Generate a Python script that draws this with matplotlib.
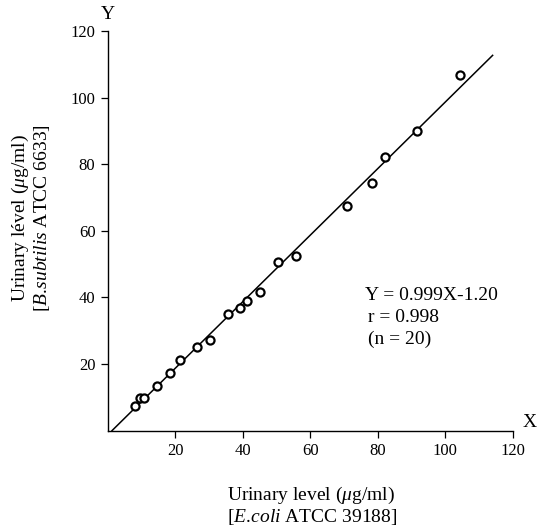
import numpy as np
import matplotlib
matplotlib.use("Agg")
import matplotlib.pyplot as plt

plt.rcParams['font.family'] = ['Liberation Serif', 'DejaVu Serif']
plt.rcParams['mathtext.fontset'] = 'custom'
plt.rcParams['mathtext.rm'] = 'Liberation Serif'
plt.rcParams['mathtext.it'] = 'Liberation Serif:italic'

# urinary levels measured with the two test organisms (ug/ml)
ecoli = [7.9, 9.4, 10.8, 14.4, 18.4, 21.4, 26.3, 30.2, 35.5, 39.0,
         41.3, 45.1, 50.4, 55.7, 70.7, 78.2, 82.1, 91.7, 104.2]
subtilis = [7.3, 9.7, 9.9, 13.4, 17.3, 21.3, 25.1, 27.1, 35.1, 36.9,
            38.8, 41.7, 50.7, 52.3, 67.5, 74.5, 82.1, 89.9, 106.7]
slope, intercept = 0.999, -1.20
ticks = [20, 40, 60, 80, 100, 120]

fig = plt.figure(figsize=(5.41, 5.29), dpi=100)
ax = fig.add_axes([0.1996, 0.186, 0.7484, 0.7554])

# regression line
xl = np.array([1.2, 114.0])
ax.plot(xl, slope * xl + intercept, color='black', lw=1.1)

ax.scatter(ecoli, subtilis, s=34, facecolors='white', edgecolors='black',
           linewidths=1.6, zorder=3)

ax.set_xlim(0, 120)
ax.set_ylim(0, 120)
ax.set_xticks(ticks)
ax.set_yticks(ticks)
ax.tick_params(direction='out', length=5, width=0.9, labelsize=12, pad=4)
for s in ['top', 'right']:
    ax.spines[s].set_visible(False)
for s in ['left', 'bottom']:
    ax.spines[s].set_linewidth(1.0)

ax.text(0.0, 1.02, 'Y', transform=ax.transAxes, ha='center', va='bottom', fontsize=14)
ax.text(1.025, 0.0, 'X', transform=ax.transAxes, ha='left', va='bottom', fontsize=14)

ax.text(76.3, 39.3, 'Y = 0.999X-1.20', fontsize=14)
ax.text(77.2, 32.6, 'r = 0.998', fontsize=14)
ax.text(77.2, 25.9, '(n = 20)', fontsize=14)

fig.text(0.037, 0.588, r'Urinary lével ($\mu$g/ml)', rotation=90, ha='center', va='center', fontsize=14)
fig.text(0.077, 0.588, r'[$\mathit{B.\!subtilis}$ ATCC 6633]', rotation=90, ha='center', va='center', fontsize=14)
fig.text(0.42, 0.063, r'Urinary level ($\mu$g/ml)', ha='left', va='center', fontsize=14)
fig.text(0.42, 0.023, r'[$\mathit{E.\!coli}$ ATCC 39188]', ha='left', va='center', fontsize=14)

fig.savefig('out.png', dpi=100)
